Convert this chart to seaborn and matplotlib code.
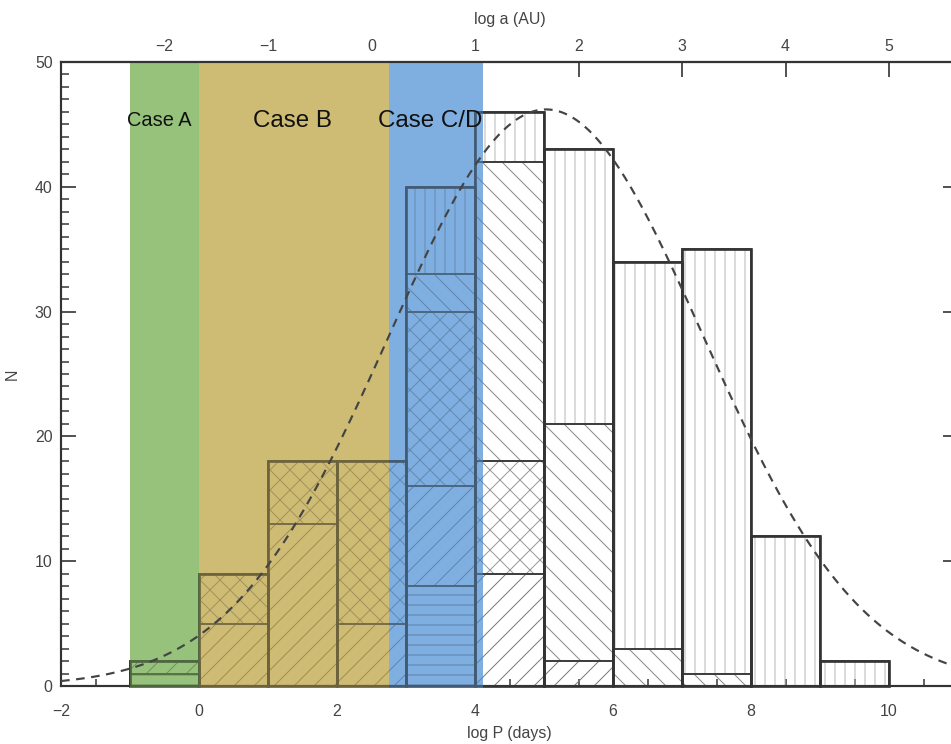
import numpy as np
import pandas as pd
import matplotlib
matplotlib.use("Agg")
import matplotlib.pyplot as plt
from matplotlib.colors import to_rgb
from matplotlib.patches import Rectangle
from matplotlib.ticker import MultipleLocator, NullLocator
import seaborn as sns

# bins in log P (days), width 1
bin_left = [-1, 0, 1, 2, 3, 4, 5, 6, 7, 8, 9]

# stacked counts per bin, bottom to top
n_horiz = [1, 0, 0, 0, 8, 0, 0, 0, 0, 0, 0]
n_fwd = [1, 5, 13, 5, 8, 9, 2, 0, 0, 0, 0]
n_cross = [0, 4, 5, 13, 14, 9, 0, 0, 0, 0, 0]
n_back = [0, 0, 0, 0, 3, 24, 19, 3, 1, 0, 0]
n_vert = [0, 0, 0, 0, 7, 4, 22, 31, 34, 12, 2]

# log-normal period distribution (dashed curve)
curve_mean = 5.03
curve_sigma = 2.28
curve_peak = 46.2

# shaded regions
regions = ["Case A", "Case B", "Case C/D"]
region_lo = [-1.0, 0.0, 2.75]
region_hi = [0.0, 2.75, 4.12]
region_label_x = [-0.57, 1.36, 3.35]
region_label_size = [12, 14.5, 14.5]
region_colors = ["#96c27b", "#cfbc74", "#7fafe1"]

top_ticks = [-2, -1, 0, 1, 2, 3, 4, 5]

sns.set_theme(style="ticks")
plt.rcParams["font.family"] = ["Liberation Sans", "DejaVu Sans"]
plt.rcParams["hatch.linewidth"] = 0.6

fig = plt.figure(figsize=(951 / 120, 744 / 120), dpi=120)
ax = fig.add_axes([61 / 951, 1 - 686 / 744, (958 - 61) / 951, (686 - 62) / 744])

# (counts, hatch, grey level on white, level inside a coloured span)
layers = [
    (n_horiz, "--", 0.48, 0.74),
    (n_fwd, "//", 0.48, 0.76),
    (n_cross, "xx", 0.6, 0.78),
    (n_back, "\\\\", 0.54, 0.76),
    (n_vert, "||", 0.72, 0.8),
]


def shade(base, level):
    return tuple(np.array(to_rgb(base)) * level)


def draw_stack(lo, hi, base):
    # whole stacked histogram, clipped to lo..hi and tinted by the span colour
    clip = Rectangle((lo, -5), hi - lo, 60, transform=ax.transData)
    in_span = base != "white"
    df = pd.DataFrame({"left": bin_left})
    bottom = np.zeros(len(bin_left))
    arts = []
    for vals, hatch, g_white, g_span in layers:
        vals = np.array(vals, dtype=float)
        keep = vals > 0
        hcol = shade(base, g_span if in_span else g_white)
        arts += ax.bar(df["left"][keep], vals[keep], width=1.0, bottom=bottom[keep],
                       align="edge", facecolor="none", edgecolor=hcol, hatch=hatch,
                       linewidth=0, zorder=2).patches
        arts += ax.bar(df["left"][keep], vals[keep], width=1.0, bottom=bottom[keep],
                       align="edge", fill=False,
                       edgecolor=shade(base, 0.58 if in_span else 0.23),
                       linewidth=1.0, zorder=3).patches
        bottom += vals
    arts += ax.bar(bin_left, bottom, width=1.0, align="edge", fill=False,
                   edgecolor=shade(base, 0.52 if in_span else 0.2),
                   linewidth=1.6, zorder=3).patches
    for a in arts:
        a.set_clip_path(clip)


for lo, hi, col in zip(region_lo, region_hi, region_colors):
    ax.axvspan(lo, hi, color=col, linewidth=0, zorder=1)
    draw_stack(lo, hi, col)
draw_stack(-2, region_lo[0], "white")
draw_stack(region_hi[-1], 11, "white")

xs = np.linspace(-2, 11, 300)
ys = curve_peak * np.exp(-0.5 * ((xs - curve_mean) / curve_sigma) ** 2)
sns.lineplot(x=xs, y=ys, ax=ax, color="#444444", linestyle=(0, (4, 3)),
             linewidth=1.3, zorder=4)

for name, xt, fs in zip(regions, region_label_x, region_label_size):
    ax.text(xt, 45.3, name, ha="center", va="center", fontsize=fs,
            color="#111111", zorder=6)

ax.set_xlim(-2, 11)
ax.set_ylim(0, 50)
ax.xaxis.set_major_locator(MultipleLocator(2))
ax.xaxis.set_minor_locator(MultipleLocator(0.5))
ax.yaxis.set_major_locator(MultipleLocator(10))
ax.yaxis.set_minor_locator(MultipleLocator(1))
ax.tick_params(which="both", direction="in", colors="#333333", labelcolor="#444444",
               bottom=True, left=True, right=True, top=False, labelsize=9.5)
ax.tick_params(which="major", length=9, width=1.0)
ax.tick_params(which="minor", length=4.5, width=0.9)
ax.tick_params(axis="x", pad=11)
ax.tick_params(axis="y", pad=5)
for s in ax.spines.values():
    s.set_color("#333333")
    s.set_linewidth(1.3)
    s.set_visible(True)

ax.set_xlabel("log P (days)", fontsize=9.5, color="#444444", labelpad=4)
ax.set_ylabel("N", fontsize=9.5, color="#444444", labelpad=9)

top = ax.secondary_xaxis("top", functions=(lambda p: (p - 2.5) * 2 / 3,
                                          lambda a: a * 1.5 + 2.5))
top.set_xticks(top_ticks)
top.tick_params(direction="in", length=9, width=1.0, colors="#333333",
                labelcolor="#444444", labelsize=9.5, pad=5)
top.xaxis.set_minor_locator(NullLocator())
top.set_xlabel("log a (AU)", fontsize=9.5, color="#444444", labelpad=9)

fig.savefig("out.png", dpi=120)
